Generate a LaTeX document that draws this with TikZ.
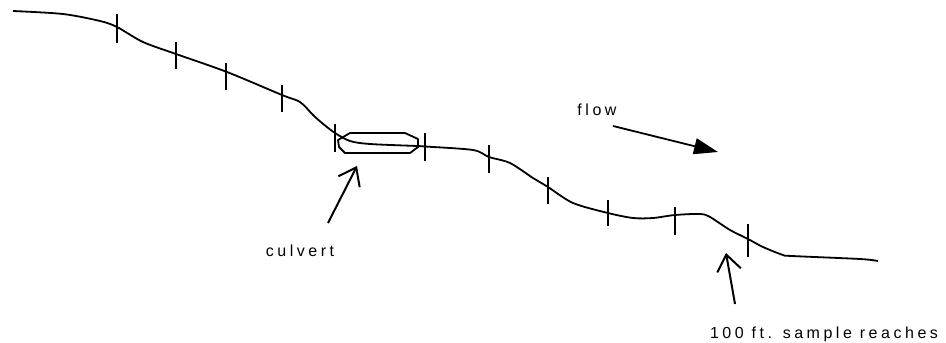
\documentclass[tikz,border=0pt]{standalone}
\usepackage{fontspec}
\setmainfont{Liberation Sans}
\newfontfamily\spaced[LetterSpace=22]{Liberation Sans}
\usetikzlibrary{arrows.meta}
\tikzset{
  river/.style={line width=1.8pt, line join=round},
  tick/.style={line width=2.4pt},
  lbl/.style={font=\spaced\fontsize{16}{19}\selectfont, inner sep=0pt, anchor=base},
  pointer/.style={line width=2pt, -{Straight Barb[length=16pt,width=24pt,line width=2pt]}},
  flowarrow/.style={line width=1.8pt, -{Triangle[length=24pt,width=16pt]}}
}
\begin{document}
\begin{tikzpicture}[x=1pt,y=-1pt]
\useasboundingbox (0,0) rectangle (946,343);
% river
\draw[river] plot[smooth, tension=0.5] coordinates {
 (13,11) (63,14) (100,21) (117,27) (143,42) (176,54) (227,72) (282,95)
 (300,102) (313,115) (322,123) (335,133) (350,141) (370,144) (417,146)
 (425,146.5) (473,150) (489,157) (510,163) (533,178) (548,187) (573,203)
 (608,213) (633,218) (653,218) (675,215) (700,214) (710,217) (730,230)
 (748,239) (763,247) (783,255) (792,256) (860,259) (878,261)};
% ticks
\foreach \x/\a/\b in {117/14/43, 176/42/69, 226/63/90, 282/85/112, 335/124/152,
  425/133/161, 489/145/173, 548/177/204, 608/200/226, 675/207/235, 748/224/257}
  \draw[tick] (\x,\a) -- (\x,\b);
% culvert
\draw[line width=1.8pt, line join=round] (350,133) -- (405,133) -- (418,139) -- (418,147) -- (410,153)
  -- (345,153) -- (339,147) -- (338,140) -- cycle;
% labels
\node[lbl] (culvert) at (300,256) {culvert};
\node[lbl] (flow) at (597,115) {flow};
\node[lbl] (reach) at (824,338) {100 ft. sample reaches};
% pointers
\coordinate (cA) at (328,223);
\coordinate (cB) at (357,166);
\coordinate (rA) at (735,304);
\coordinate (rB) at (726,253);
\coordinate (fA) at (613,126);
\coordinate (fB) at (718,152);
\draw[pointer] (cA) -- (cB);
\draw[pointer] (rA) -- (rB);
\draw[flowarrow] (fA) -- (fB);
\end{tikzpicture}
\end{document}
